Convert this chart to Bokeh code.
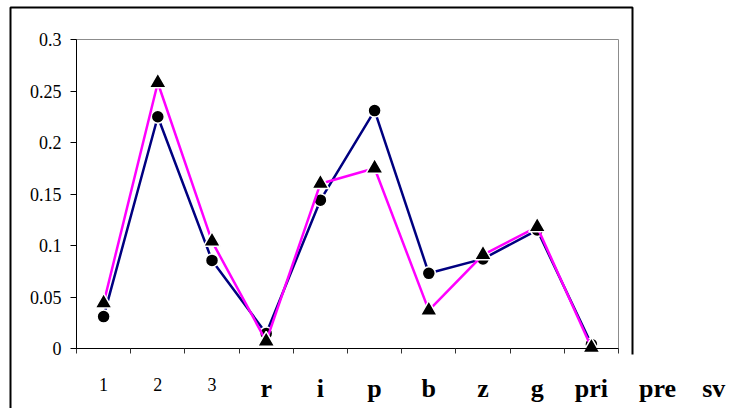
from bokeh.plotting import figure
from bokeh.models import Range1d, FixedTicker, BoxAnnotation
from bokeh.core.properties import value
from bokeh.embed import file_html
from bokeh.resources import INLINE

# ---- data ----
categories = ["1", "2", "3", "r", "i", "p", "b", "z", "g", "pri", "pre", "sv"]
navy_values = [0.031, 0.225, 0.0855, 0.0146, 0.144, 0.231, 0.073, 0.087, 0.115, 0.004]
magenta_values = [0.044, 0.258, 0.104, 0.007, 0.160, 0.175, 0.037, 0.091, 0.118, 0.001]
y_ticks = [0, 0.05, 0.1, 0.15, 0.2, 0.25, 0.3]
y_tick_labels = ["0", "0.05", "0.1", "0.15", "0.2", "0.25", "0.3"]
y_max = 0.3

n_plot = len(navy_values)
xs = [i + 0.5 for i in range(n_plot)]

# ---- layout (pixels) ----
W, H = 729, 408
plot_left, plot_right, plot_top, plot_bottom = 76, 618, 39, 348
sx = (plot_right - plot_left) / n_plot
sy = (plot_bottom - plot_top) / y_max
x_range = Range1d(-plot_left / sx, (W - plot_left) / sx)
y_range = Range1d(-(H - plot_bottom) / sy, y_max + plot_top / sy)

p = figure(width=W, height=H, output_backend="svg", toolbar_location=None,
           x_range=x_range, y_range=y_range,
           min_border_left=0, min_border_right=0, min_border_top=0,
           min_border_bottom=0)
p.background_fill_color = "white"
p.border_fill_color = "white"
p.outline_line_color = None
p.xgrid.visible = False
p.ygrid.visible = False

# outer chart frame
p.add_layout(BoxAnnotation(left=10, right=632, top=7, bottom=520,
                           left_units="canvas", right_units="canvas",
                           top_units="canvas", bottom_units="canvas",
                           fill_color=None, line_color="black", line_alpha=1,
                           line_width=2, level="underlay"))
p.add_layout(BoxAnnotation(left=626, right=760, top=354, bottom=520,
                           left_units="canvas", right_units="canvas",
                           top_units="canvas", bottom_units="canvas",
                           fill_color="white", fill_alpha=1, line_color=None,
                           level="underlay"))
# plot area border (grey)
p.add_layout(BoxAnnotation(left=0, right=n_plot, bottom=0, top=y_max,
                           fill_color=None, line_color="#8c8c8c", line_alpha=1,
                           line_width=1, level="underlay"))

# y axis
ya = p.yaxis[0]
ya.fixed_location = 0
ya.bounds = (0, y_max)
ya.ticker = FixedTicker(ticks=y_ticks, minor_ticks=[])
ya.major_label_overrides = {t: l for t, l in zip(y_ticks, y_tick_labels)}
ya.major_label_text_font = "Liberation Serif"
ya.major_label_text_font_size = "18px"
ya.major_label_text_font_style = "normal"
ya.major_label_text_color = "black"
ya.major_label_standoff = 9
ya.major_tick_out = 6
ya.major_tick_in = 0
ya.major_tick_line_color = "black"
ya.axis_line_color = "black"
ya.minor_tick_line_color = None

# x axis: boundary ticks only
xa = p.xaxis[0]
xa.fixed_location = 0
xa.bounds = (0, n_plot)
xa.ticker = FixedTicker(ticks=[], minor_ticks=list(range(n_plot + 1)))
xa.minor_tick_out = 5
xa.minor_tick_in = 0
xa.minor_tick_line_color = "#333333"
xa.major_tick_line_color = None
xa.axis_line_color = "black"

# series
p.line(xs, navy_values, line_color="#000080", line_width=2.5)
p.scatter(xs, navy_values, marker="circle", size=13, fill_color="black",
          line_color="white", line_width=1.5)
p.line(xs, magenta_values, line_color="#FF00FF", line_width=2.5)
p.scatter(xs, magenta_values, marker="triangle", size=17, fill_color="black",
          line_color="white", line_width=1.5)

# category labels
extra_offset = {10: 12, 11: 14}
num_idx = [i for i, c in enumerate(categories) if c.isdigit()]
txt_idx = [i for i, c in enumerate(categories) if not c.isdigit()]
p.text(x=[i + 0.5 for i in num_idx], y=[0] * len(num_idx),
       text=[categories[i] for i in num_idx],
       x_offset=[extra_offset.get(i, 0) for i in num_idx], y_offset=36,
       text_align="center", text_baseline="alphabetic",
       text_font=value("Liberation Serif"), text_font_size="18px",
       text_color="black")
p.text(x=[i + 0.5 for i in txt_idx], y=[0] * len(txt_idx),
       text=[categories[i] for i in txt_idx],
       x_offset=[extra_offset.get(i, 0) for i in txt_idx], y_offset=40,
       text_align="center", text_baseline="alphabetic",
       text_font=value("Liberation Serif"), text_font_size="26px",
       text_font_style="bold", text_color="black")

open("out.html", "w").write(file_html(p, INLINE))
